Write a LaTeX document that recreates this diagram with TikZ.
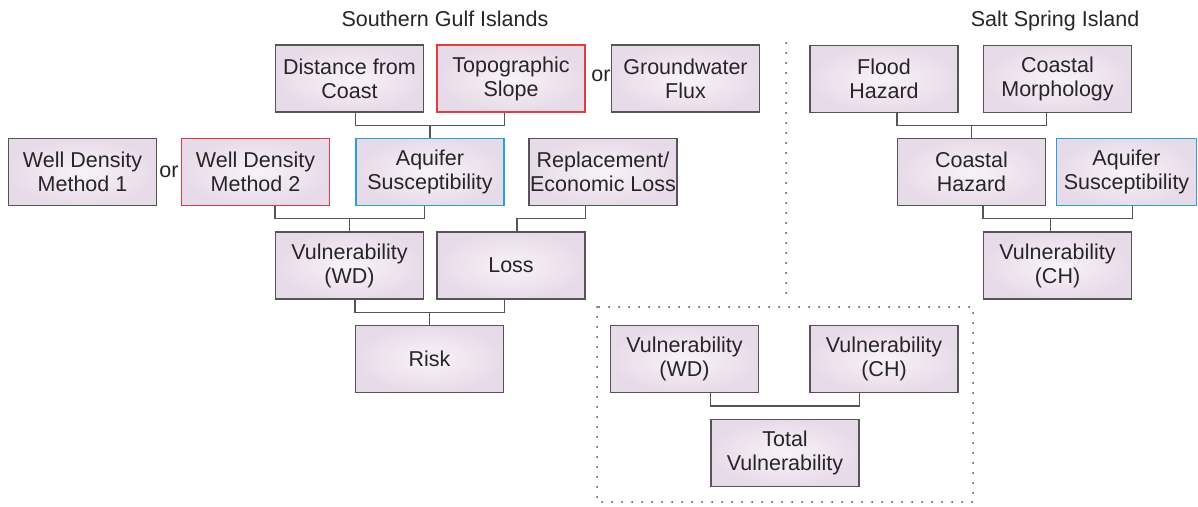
\documentclass[tikz,border=0pt]{standalone}
\usepackage{fontspec}
\setmainfont{Liberation Sans}
\usetikzlibrary{calc}
\definecolor{boxin}{RGB}{248,243,248}
\definecolor{boxout}{RGB}{232,219,233}
\definecolor{boxline}{RGB}{85,85,85}
\definecolor{redline}{RGB}{222,62,62}
\definecolor{blueline}{RGB}{38,160,214}
\tikzset{
    box/.style={draw=boxline,line width=1.4pt,inner color=boxin,outer color=boxout,
        minimum width=148pt,minimum height=67pt,inner sep=0pt,align=center,
        text=black!85,font=\fontsize{21.5}{24}\selectfont},
    redbox/.style={box,draw=redline},
    bluebox/.style={box,draw=blueline},
    link/.style={draw=boxline,line width=1.4pt},
    sep/.style={black!70,line width=2pt,dash pattern=on 0pt off 10pt,line cap=round},
    label/.style={text=black!85,font=\fontsize{21.5}{24}\selectfont,inner sep=0pt}
}
\begin{document}
\begin{tikzpicture}[x=1pt,y=-1pt]
    \useasboundingbox[fill=white](0,0)rectangle(1198,506);
    % titles
    \node[label,anchor=base](sgi)at(445,27){Southern Gulf Islands};
    \node[label,anchor=base](ssi)at(1055,27){Salt Spring Island};
    % Southern Gulf Islands
    \node[box](dist)at(349.5,78.5){Distance from\\Coast};
    \node[redbox](topo)at(511,78.5){Topographic\\Slope};
    \node[label](or2)at(601,76){or};
    \node[box](flux)at(685.5,78.5){Groundwater\\Flux};
    \node[box](wd1)at(82.5,172){Well Density\\Method 1};
    \node[label](or1)at(169,172){or};
    \node[redbox](wd2)at(255.5,172){Well Density\\Method 2};
    \node[bluebox](aq1)at(430,172){Aquifer\\Susceptibility};
    \node[box](repl)at(603,172){Replacement/\\Economic Loss};
    \node[box](vwd)at(349.5,265.5){Vulnerability\\(WD)};
    \node[box](loss)at(511,265.5){Loss};
    \node[box](risk)at(429.5,359){Risk};
    % Salt Spring Island
    \node[box](flood)at(884,79){Flood\\Hazard};
    \node[box](morph)at(1057.5,79){Coastal\\Morphology};
    \node[box](chaz)at(971.5,172){Coastal\\Hazard};
    \node[bluebox,minimum width=140pt](aq2)at(1126.5,172){Aquifer\\Susceptibility};
    \node[box](vch)at(1057.5,265.5){Vulnerability\\(CH)};
    % total
    \node[box](twd)at(684.5,359){Vulnerability\\(WD)};
    \node[box](tch)at(884,359){Vulnerability\\(CH)};
    \node[box](total)at(785,453){Total\\Vulnerability};
    % connectors
    \coordinate(b1)at($(dist.south)!.5!(aq1.north)$);
    \coordinate(b2)at($(wd2.south)!.5!(vwd.north)$);
    \coordinate(b3)at($(repl.south)!.5!(loss.north)$);
    \coordinate(b4)at($(vwd.south)!.5!(risk.north)$);
    \coordinate(b5)at($(flood.south)!.5!(chaz.north)$);
    \coordinate(b6)at($(chaz.south)!.5!(vch.north)$);
    \coordinate(b7)at($(twd.south)!.5!(total.north)$);
    \draw[link](dist.south-|aq1.west)|-(b1)-|(topo.south-|aq1.east);
    \draw[link](aq1.north)--(aq1.north|-b1);
    \draw[link](wd2.south-|vwd.west)|-(b2)-|(aq1.south-|vwd.east);
    \draw[link](vwd.north)--(vwd.north|-b2);
    \draw[link](repl.south-|loss.east)|-(b3)-|([xshift=6pt]loss.north);
    \draw[link](vwd.south-|risk.west)|-(b4)-|(loss.south-|risk.east);
    \draw[link](risk.north)--(risk.north|-b4);
    \draw[link](flood.south-|chaz.west)|-(b5)-|(morph.south-|chaz.east);
    \draw[link](chaz.north)--(chaz.north|-b5);
    \draw[link](chaz.south-|vch.west)|-(b6)-|(aq2.south-|vch.east);
    \draw[link]([xshift=-7pt]vch.north)--([xshift=-7pt]vch.north|-b6);
    \draw[link](twd.south-|total.west)|-(b7)-|(tch.south-|total.east);
    % dotted frames
    \draw[sep](786,43)--(786,300);
    \draw[sep](597,307)rectangle(973,502);
\end{tikzpicture}
\end{document}
